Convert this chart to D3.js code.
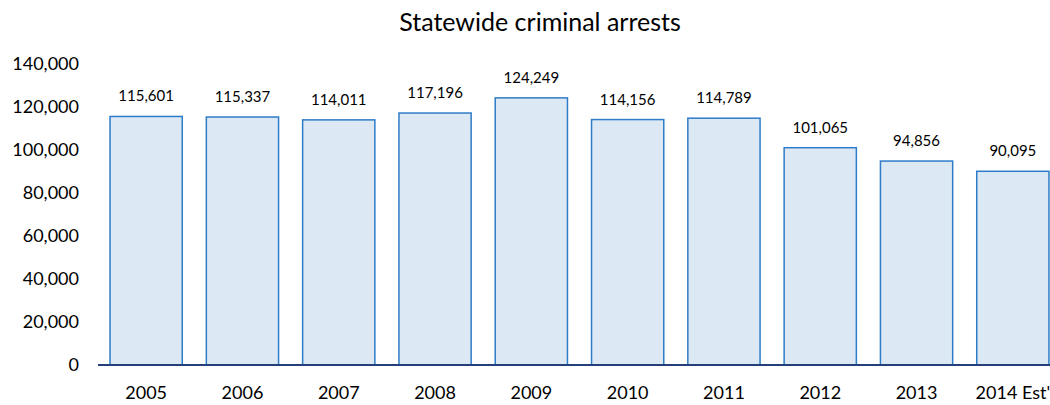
<!DOCTYPE html>
<html>
<head>
<meta charset="utf-8">
<script src="https://cdn.jsdelivr.net/npm/d3@7"></script>
<style>
  body { margin: 0; background: #fff; }
  text { font-family: Lato, "Open Sans", sans-serif; fill: #000; }
</style>
</head>
<body>
<div id="chart"></div>
<script>
// data
var years = ["2005", "2006", "2007", "2008", "2009", "2010", "2011", "2012", "2013", "2014 Est'"];
var arrests = [115601, 115337, 114011, 117196, 124249, 114156, 114789, 101065, 94856, 90095];
var yTicks = [0, 20000, 40000, 60000, 80000, 100000, 120000, 140000];

var width = 1050, height = 405;

var svg = d3.select("#chart").append("svg")
    .attr("width", width)
    .attr("height", height);

// scales
var x = d3.scaleBand()
    .domain(years)
    .range([98, 1061])
    .paddingInner(0.25)
    .paddingOuter(0.125);

var y = d3.scaleLinear()
    .domain([0, 140000])
    .range([365, 64]);

// title
svg.append("text")
    .attr("x", 540)
    .attr("y", 31)
    .attr("text-anchor", "middle")
    .style("font-size", "25px")
    .text("Statewide criminal arrests");

// y axis labels (no line)
var yAxis = d3.axisLeft(y)
    .tickValues(yTicks)
    .tickFormat(d3.format(","))
    .tickSize(0)
    .tickPadding(0);

var gy = svg.append("g")
    .attr("transform", "translate(79,0)")
    .call(yAxis);
gy.select(".domain").remove();
gy.selectAll("text")
    .style("font-size", "18px")
    .style("font-family", "Lato, sans-serif")
    .attr("fill", "#000");

// bars
svg.selectAll(".bar")
    .data(arrests)
    .enter().append("rect")
    .attr("class", "bar")
    .attr("x", function(d, i) { return x(years[i]); })
    .attr("width", x.bandwidth())
    .attr("y", function(d) { return y(d); })
    .attr("height", function(d) { return y(0) - y(d); })
    .attr("fill", "#dde8f5")
    .attr("stroke", "#2e7cc8")
    .attr("stroke-width", 1.5);

// value labels
svg.selectAll(".val")
    .data(arrests)
    .enter().append("text")
    .attr("class", "val")
    .attr("x", function(d, i) { return x(years[i]) + x.bandwidth() / 2; })
    .attr("y", function(d) { return y(d) - 15; })
    .attr("text-anchor", "middle")
    .style("font-size", "15px")
    .text(function(d) { return d3.format(",")(d); });

// x axis
var xAxis = d3.axisBottom(x).tickSize(0).tickPadding(0);
var gx = svg.append("g")
    .attr("transform", "translate(0," + y(0) + ")")
    .call(xAxis);
gx.select(".domain")
    .attr("stroke", "#243f7a")
    .attr("stroke-width", 2)
    .attr("d", "M98,0H1061");
gx.selectAll("text")
    .attr("dy", "0")
    .attr("y", 34)
    .style("font-size", "18px")
    .style("font-family", "Lato, sans-serif")
    .attr("fill", "#000");
</script>
</body>
</html>
